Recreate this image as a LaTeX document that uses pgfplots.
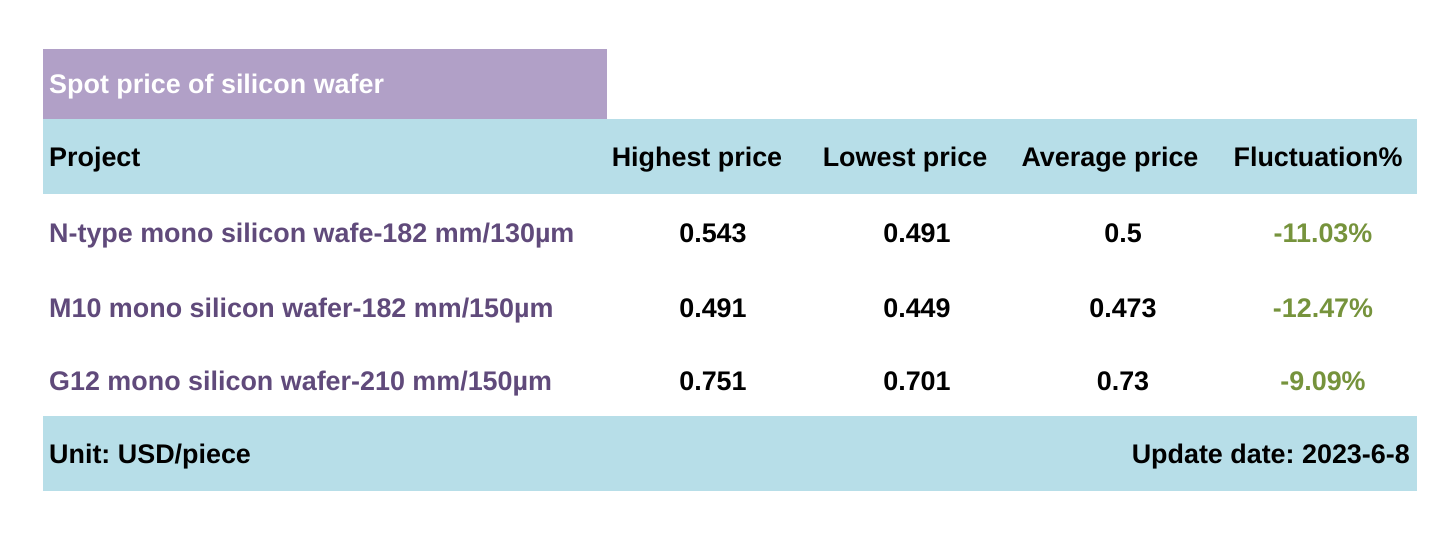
\documentclass[border=0pt]{standalone}
\usepackage{pgfplots}
\pgfplotsset{compat=1.18}
\usepackage{pgfplotstable}
\usepackage{fontspec}
\setmainfont{Liberation Sans}
\frenchspacing
\definecolor{titlepurple}{HTML}{B1A0C7}
\definecolor{headblue}{HTML}{B7DEE8}
\definecolor{projpurple}{HTML}{604A7B}
\definecolor{fluctgreen}{HTML}{76933C}
\pgfplotstableread{
x y label
713 242 0.543
917 242 0.491
1123 242 0.5
713 317 0.491
917 317 0.449
1123 317 0.473
713 390 0.751
917 390 0.701
1123 390 0.73
}\pricedata
\pgfplotstableread{
x y label
1323 242 -11.03\%
1323 317 -12.47\%
1323 390 -9.09\%
}\fluctdata
\newcommand\tfont{\fontsize{27}{32}\selectfont\bfseries}
\begin{document}
\begin{tikzpicture}
\begin{axis}[
  scale only axis, width=1446bp, height=553bp,
  xmin=0, xmax=1446, ymin=0, ymax=553, y dir=reverse,
  hide axis, clip=false,
  every node near coord/.style={font=\tfont, anchor=base, inner sep=0pt},
]
% full canvas
\addplot[draw=none, mark=none, forget plot] coordinates {(0,0) (1446,553)};
% boxes
\addplot[fill=titlepurple, draw=none] coordinates {(43,49) (607,49) (607,119) (43,119)} -- cycle;
\addplot[fill=headblue, draw=none] coordinates {(43,119) (1417,119) (1417,194) (43,194)} -- cycle;
\addplot[fill=headblue, draw=none] coordinates {(43,416) (1417,416) (1417,491) (43,491)} -- cycle;
% values
\addplot[draw=none, mark=none, nodes near coords={\pgfplotspointmeta}, point meta=explicit symbolic,
  every node near coord/.append style={text=black}] table[x=x, y=y, meta=label] {\pricedata};
\addplot[draw=none, mark=none, nodes near coords={\pgfplotspointmeta}, point meta=explicit symbolic,
  every node near coord/.append style={text=fluctgreen}] table[x=x, y=y, meta=label] {\fluctdata};
% text
\begin{scope}[every node/.style={font=\tfont, inner sep=0pt}]
\node[anchor=base west, text=white] at (axis cs:49,93) {Spot price of silicon wafer};
\node[anchor=base west] at (axis cs:49,166) {Project};
\node[anchor=base] at (axis cs:697,166) {Highest price};
\node[anchor=base] at (axis cs:905,166) {Lowest price};
\node[anchor=base] at (axis cs:1110,166) {Average price};
\node[anchor=base] at (axis cs:1318,166) {Fluctuation\%};
\node[anchor=base west, text=projpurple] at (axis cs:49,242) {N-type mono silicon wafe-182 mm/130µm};
\node[anchor=base west, text=projpurple] at (axis cs:49,317) {M10 mono silicon wafer-182 mm/150µm};
\node[anchor=base west, text=projpurple] at (axis cs:49,390) {G12 mono silicon wafer-210 mm/150µm};
\node[anchor=base west] at (axis cs:49,463) {Unit: USD/piece};
\node[anchor=base east] at (axis cs:1410,463) {Update date: 2023-6-8};
\end{scope}
\end{axis}
\end{tikzpicture}
\end{document}
